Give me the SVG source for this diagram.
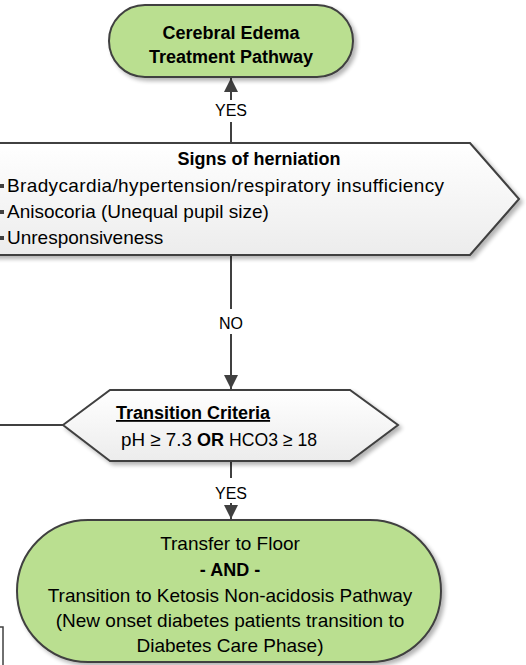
<svg xmlns="http://www.w3.org/2000/svg" width="526" height="665" viewBox="0 0 526 665">
<style>
  text { font-family: "Liberation Sans", Arial, sans-serif; fill: #000; }
  .b { font-weight: bold; font-size: 18px; }
  .r { font-size: 19px; }
  .lbl { font-size: 16px; }
  .pill { fill: #BADF90; stroke: #404040; stroke-width: 2; }
  .hex { fill: url(#hexfill); stroke: #404040; stroke-width: 2; }
  .conn { stroke: #404040; stroke-width: 2; fill: none; }
  .bul { fill: #404040; }
</style>
<defs>
  <linearGradient id="hexfill" x1="0" y1="0" x2="0" y2="1">
    <stop offset="0" stop-color="#ffffff"/>
    <stop offset="1" stop-color="#ececec"/>
  </linearGradient>
  <filter id="shadow" x="-10%" y="-10%" width="130%" height="140%">
    <feGaussianBlur in="SourceAlpha" stdDeviation="2"/>
    <feOffset dx="3" dy="3" result="o"/>
    <feComponentTransfer><feFuncA type="linear" slope="0.3"/></feComponentTransfer>
    <feMerge><feMergeNode/><feMergeNode in="SourceGraphic"/></feMerge>
  </filter>
  <marker id="arr" markerWidth="14" markerHeight="16" refX="14" refY="7" orient="auto" markerUnits="userSpaceOnUse" viewBox="0 0 14 14">
    <path d="M0,0 L14,7 L0,14 Z" fill="#404040"/>
  </marker>
</defs>

<g id="connectors">
  <line class="conn" x1="231" y1="143" x2="231" y2="122"/>
  <line class="conn" x1="231" y1="100" x2="231" y2="78" marker-end="url(#arr)"/>
  <line class="conn" x1="231" y1="255" x2="231" y2="309"/>
  <line class="conn" x1="231" y1="334" x2="231" y2="389" marker-end="url(#arr)"/>
  <line class="conn" x1="231" y1="461" x2="231" y2="478"/>
  <line class="conn" x1="231" y1="503" x2="231" y2="519" marker-end="url(#arr)"/>
  <line class="conn" x1="0" y1="425" x2="63" y2="425"/>
  <text class="lbl" x="231" y="116" text-anchor="middle">YES</text>
  <text class="lbl" x="231" y="329" text-anchor="middle">NO</text>
  <text class="lbl" x="231" y="499" text-anchor="middle">YES</text>
</g>

<g id="cerebral-edema">
  <rect class="pill" x="109" y="5" width="244" height="72" rx="36" ry="36" filter="url(#shadow)"/>
  <text class="b" x="231" y="39" text-anchor="middle">Cerebral Edema</text>
  <text class="b" x="231" y="63" text-anchor="middle">Treatment Pathway</text>
</g>

<g id="signs-of-herniation">
  <polygon class="hex" points="-60,199 -10,143 470,143 519,199 470,255 -10,255" filter="url(#shadow)"/>
  <text class="b" x="259" y="165" text-anchor="middle">Signs of herniation</text>
  <rect class="bul" x="0" y="184" width="4" height="4"/>
  <rect class="bul" x="0" y="210" width="4" height="4"/>
  <rect class="bul" x="0" y="236" width="4" height="4"/>
  <text class="r" x="7" y="192" textLength="437" lengthAdjust="spacing">Bradycardia/hypertension/respiratory insufficiency</text>
  <text class="r" x="7" y="218">Anisocoria (Unequal pupil size)</text>
  <text class="r" x="7" y="244">Unresponsiveness</text>
</g>

<g id="transition-criteria">
  <polygon class="hex" points="63,425 110,390 350,390 398,425 350,461 110,461" filter="url(#shadow)"/>
  <text class="b" x="116" y="419" text-decoration="underline">Transition Criteria</text>
  <text class="r" x="121" y="446" textLength="71" lengthAdjust="spacingAndGlyphs">pH ≥ 7.3</text>
  <text class="b" x="197" y="446">OR</text>
  <text class="r" x="229" y="446" textLength="88" lengthAdjust="spacingAndGlyphs">HCO3 ≥ 18</text>
</g>

<g id="transfer-to-floor">
  <rect class="pill" x="17" y="520" width="424" height="142" rx="71" ry="71" filter="url(#shadow)"/>
  <text class="r" x="230" y="550" text-anchor="middle">Transfer to Floor</text>
  <text class="b" x="230" y="576" text-anchor="middle">- AND -</text>
  <text class="r" x="230" y="602" text-anchor="middle">Transition to Ketosis Non-acidosis Pathway</text>
  <text class="r" x="230" y="627" text-anchor="middle">(New onset diabetes patients transition to</text>
  <text class="r" x="230" y="652" text-anchor="middle">Diabetes Care Phase)</text>
</g>

<g id="offscreen-box">
  <rect x="-100" y="627" width="103" height="60" fill="#ffffff" stroke="#404040" stroke-width="1.5"/>
</g>
</svg>
